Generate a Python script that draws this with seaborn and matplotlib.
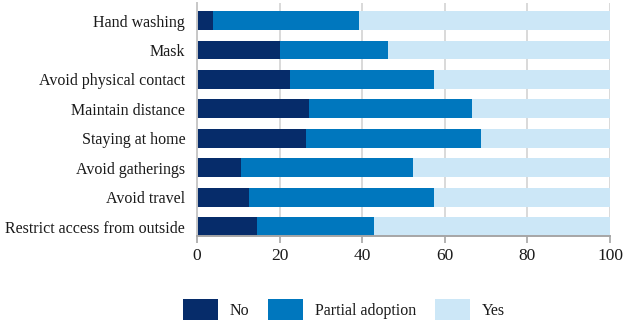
import matplotlib.pyplot as plt
import seaborn as sns
import pandas as pd

categories = ["Hand washing", "Mask", "Avoid physical contact", "Maintain distance",
              "Staying at home", "Avoid gatherings", "Avoid travel", "Restrict access from outside"]
no = [3.9, 20.2, 22.6, 27.2, 26.4, 10.7, 12.6, 14.6]
partial = [35.4, 26.1, 34.9, 39.5, 42.4, 41.7, 44.7, 28.3]
yes = [100 - n - p for n, p in zip(no, partial)]

df = pd.DataFrame({"category": categories, "No": no, "Partial adoption": partial, "Yes": yes})
df["cum_partial"] = df["No"] + df["Partial adoption"]
df["cum_yes"] = df["cum_partial"] + df["Yes"]

colors = {"No": "#062c6a", "Partial adoption": "#0077be", "Yes": "#cce7f7"}

sns.set_theme(style="white")
plt.rcParams["font.family"] = ["Liberation Serif", "DejaVu Serif"]

fig = plt.figure(figsize=(6.24, 3.24), dpi=100)
ax = fig.add_axes([197 / 624, 1 - 236 / 324, 413 / 624, 233 / 324])

bar_w = 0.64
sns.barplot(data=df, y="category", x="cum_yes", color=colors["Yes"], width=bar_w,
            orient="h", ax=ax, label="Yes", saturation=1, linewidth=0, zorder=2)
sns.barplot(data=df, y="category", x="cum_partial", color=colors["Partial adoption"], width=bar_w,
            orient="h", ax=ax, label="Partial adoption", saturation=1, linewidth=0, zorder=2)
sns.barplot(data=df, y="category", x="No", color=colors["No"], width=bar_w,
            orient="h", ax=ax, label="No", saturation=1, linewidth=0, zorder=2)

ax.set_xlim(0, 100)
ax.set_ylim(7 + bar_w / 2, -0.6)
ax.set_xticks([0, 20, 40, 60, 80, 100])
ax.set_xlabel("")
ax.set_ylabel("")
ax.xaxis.grid(True, color="#d9d9d9", linewidth=1.4, zorder=0)
ax.set_axisbelow(True)

for s in ["top", "right"]:
    ax.spines[s].set_visible(False)
ax.spines["left"].set_color("#c8c8c8")
ax.spines["left"].set_linewidth(1.4)
ax.spines["bottom"].set_color("#a6a6a6")
ax.spines["bottom"].set_linewidth(1.4)

ax.tick_params(axis="x", bottom=True, length=5, width=1.2, color="#a6a6a6",
               labelsize=12.5, pad=4, labelcolor="#1a1a1a")
ax.tick_params(axis="y", left=False, labelsize=11.5, pad=2.5, labelcolor="#1a1a1a")

handles, labels = ax.get_legend_handles_labels()
order = [labels.index(l) for l in ["No", "Partial adoption", "Yes"]]
if ax.get_legend():
    ax.get_legend().remove()
fig.legend([handles[i] for i in order], [labels[i] for i in order],
           loc="center", bbox_to_anchor=(344 / 624, 0.045), ncol=3, frameon=False,
           fontsize=11.5, handlelength=2.15, handleheight=1.6, handletextpad=0.75,
           columnspacing=1.2, labelcolor="#1a1a1a")

fig.savefig("out.png", dpi=100)
